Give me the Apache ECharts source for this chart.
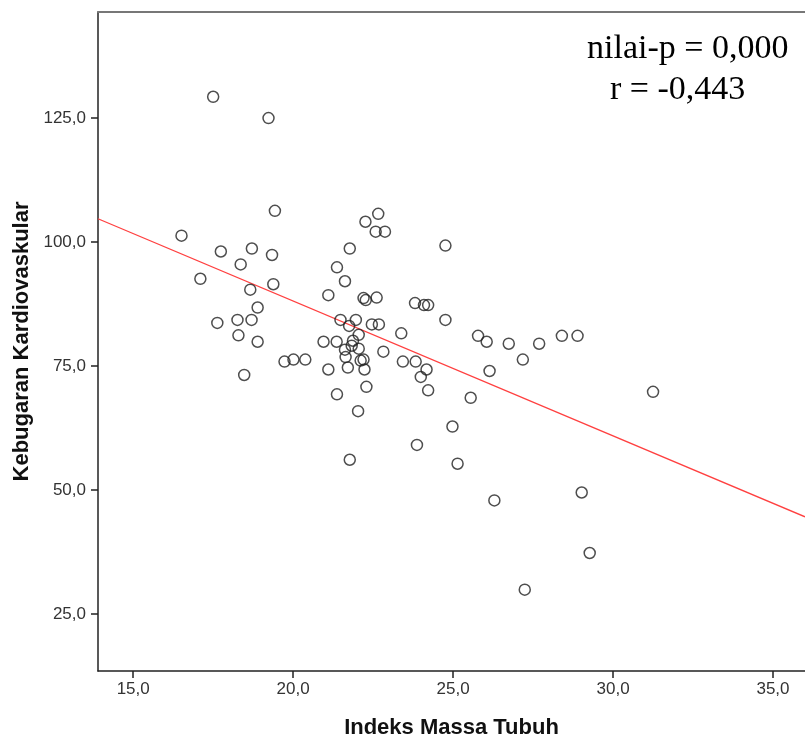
<!DOCTYPE html>
<html>
<head>
<meta charset="utf-8">
<script src="https://cdn.jsdelivr.net/npm/echarts@6/dist/echarts.min.js"></script>
<style>
  html, body { margin: 0; padding: 0; background: #fff; }
  #chart { width: 805px; height: 744px; }
</style>
</head>
<body>
<div id="chart"></div>
<script>
  // Indeks Massa Tubuh (x) vs Kebugaran Kardiovaskular (y)
  const imt = [
    17.50, 19.23, 19.43, 22.66, 22.26, 22.58, 22.87, 16.51, 17.74, 18.71,
    19.34, 18.36, 21.77, 21.37, 21.62, 17.10, 18.66, 19.38, 21.10, 22.20,
    22.27, 22.61, 18.89, 17.63, 18.26, 18.70, 21.48, 21.96, 21.75, 22.46,
    22.68, 18.29, 18.89, 22.05, 21.87, 21.83, 20.95, 21.36, 21.62, 22.05,
    21.64, 22.82, 23.38, 23.43, 19.73, 20.01, 20.38, 21.10, 21.71, 22.11,
    22.20, 22.23, 18.47, 22.29, 21.37, 22.03, 24.76, 23.81, 24.09, 24.22,
    24.76, 23.83, 24.17, 23.99, 24.22, 25.55, 25.78, 26.05, 26.74, 27.69,
    28.40, 28.89, 27.18, 26.14, 31.25, 24.98, 23.87, 21.77, 25.14, 26.29,
    29.02, 29.27, 27.24
  ]
  const kebugaran = [
    129.3, 125.0, 106.3, 105.7, 104.1, 102.1, 102.1, 101.3, 98.1, 98.7,
    97.4, 95.5, 98.7, 94.9, 92.1, 92.6, 90.4, 91.5, 89.3, 88.7,
    88.3, 88.8, 86.8, 83.7, 84.3, 84.3, 84.3, 84.3, 83.1, 83.4,
    83.4, 81.2, 79.9, 81.3, 80.1, 79.1, 79.9, 79.9, 78.3, 78.5,
    76.8, 77.9, 81.6, 75.9, 75.9, 76.3, 76.3, 74.3, 74.7, 76.1,
    76.3, 74.3, 73.2, 70.8, 69.3, 65.9, 99.3, 87.7, 87.3, 87.3,
    84.3, 75.9, 74.3, 72.8, 70.1, 68.6, 81.1, 79.9, 79.5, 79.5,
    81.1, 81.1, 76.3, 74.0, 69.8, 62.8, 59.1, 56.1, 55.3, 47.9,
    49.5, 37.3, 29.9
  ]
  // garis regresi (titik ujung)
  const garisX = [13.9, 36.0]
  const garisY = [104.7, 44.6]
  const tickX = [15, 20, 25, 30, 35]
  const tickY = [25, 50, 75, 100, 125]
  const teks = ['nilai-p = 0,000', 'r = -0,443']

  const fmt = (v) => v.toFixed(1).replace('.', ',')

  const chart = echarts.init(document.getElementById('chart'))
  const option = {
    animation: false,
    grid: { left: 98, top: 12, right: 0, bottom: 68 },
    xAxis: [
      {
        type: 'value',
        min: 13.9,
        max: 36,
        name: 'Indeks Massa Tubuh',
        nameLocation: 'middle',
        nameGap: 46,
        nameTextStyle: { fontFamily: 'Liberation Sans', fontWeight: 'bold', fontSize: 22, color: '#111' },
        splitLine: { show: false },
        axisLine: { onZero: false, lineStyle: { color: '#222', width: 1.5 } },
        axisTick: { customValues: tickX, length: 7, lineStyle: { color: '#222', width: 1.5 } },
        axisLabel: { customValues: tickX, formatter: fmt, margin: 10, fontFamily: 'Liberation Sans', fontSize: 17, color: '#333' },
      },
      {
        type: 'value',
        position: 'top',
        min: 13.9,
        max: 36,
        splitLine: { show: false },
        axisLine: { show: true, onZero: false, lineStyle: { color: '#777', width: 2 } },
        axisTick: { show: false },
        axisLabel: { show: false },
      },
    ],
    yAxis: {
      type: 'value',
      min: 13.5,
      max: 146.4,
      name: 'Kebugaran Kardiovaskular',
      nameLocation: 'middle',
      nameGap: 65,
      nameTextStyle: { fontFamily: 'Liberation Sans', fontWeight: 'bold', fontSize: 22, color: '#111' },
      splitLine: { show: false },
      axisLine: { show: true, onZero: false, lineStyle: { color: '#222', width: 1.5 } },
      axisTick: { show: true, customValues: tickY, length: 7, lineStyle: { color: '#222', width: 1.5 } },
      axisLabel: { customValues: tickY, formatter: fmt, margin: 12, fontFamily: 'Liberation Sans', fontSize: 17, color: '#333' },
    },
    graphic: [
      {
        type: 'text',
        left: 587,
        top: 32,
        style: { text: teks[0], font: '34px "Liberation Serif"', fill: '#000' },
      },
      {
        type: 'text',
        left: 610,
        top: 73,
        style: { text: teks[1], font: '34px "Liberation Serif"', fill: '#000' },
      },
    ],
    series: [
      {
        type: 'line',
        data: garisX.map((x, i) => [x, garisY[i]]),
        symbol: 'none',
        lineStyle: { color: '#ff4040', width: 1.3 },
        z: 1,
      },
      {
        type: 'scatter',
        data: imt.map((x, i) => [x, kebugaran[i]]),
        symbol: 'circle',
        symbolSize: 11,
        itemStyle: { color: 'rgba(0,0,0,0)', borderColor: '#222', borderWidth: 1.5 },
        z: 2,
      },
    ],
  }
  chart.setOption(option)
</script>
</body>
</html>
